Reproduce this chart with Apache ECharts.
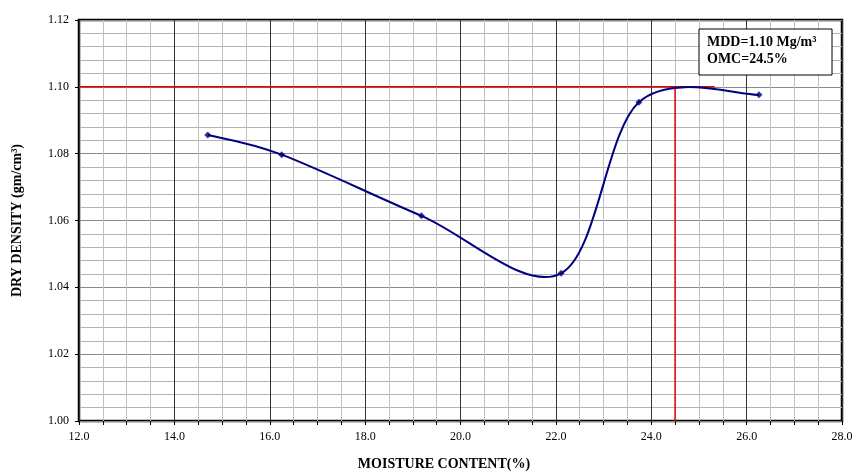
<!DOCTYPE html>
<html>
<head>
<meta charset="utf-8">
<script src="https://cdn.jsdelivr.net/npm/echarts@6/dist/echarts.min.js"></script>
<style>html,body{margin:0;padding:0;background:#fff}#c{width:856px;height:472px}</style>
</head>
<body>
<div id="c"></div>
<script>
// Data
var moisture = [14.7, 16.25, 19.18, 22.11, 23.74, 26.26];
var density  = [1.0856, 1.0797, 1.0614, 1.0442, 1.0954, 1.0976];
var mddX = [12.0, 25.33];
var mddY = [1.10, 1.10];
var omcX = [24.5, 24.5];
var omcY = [1.00, 1.10];
var xTicks = {min: 12, max: 28, step: 2};
var yTicks = {min: 1.00, max: 1.12, step: 0.02};
var xTitle = 'MOISTURE CONTENT(%)';
var yTitle = 'DRY DENSITY (gm/cm³)';
var noteLines = ['MDD=1.10 Mg/m³', 'OMC=24.5%'];

function zip(a, b) { return a.map(function (v, i) { return [v, b[i]]; }); }

var font = 'Liberation Serif, Times New Roman, serif';
var curveData = zip(moisture, density);

// Smoothed curve (Catmull-Rom style bezier) drawn in pixel space via the axes' scales
function renderCurve(params, api) {
  if (params.dataIndex !== 0) return null;
  var p = curveData.map(function (d) { return api.coord(d); });
  var n = p.length;
  var path = 'M' + p[0][0] + ' ' + p[0][1];
  for (var i = 0; i < n - 1; i++) {
    var p0 = p[Math.max(i - 1, 0)], p1 = p[i], p2 = p[i + 1], p3 = p[Math.min(i + 2, n - 1)];
    var c1x = p1[0] + (p2[0] - p0[0]) / 6, c1y = p1[1] + (p2[1] - p0[1]) / 6;
    var c2x = p2[0] - (p3[0] - p1[0]) / 6, c2y = p2[1] - (p3[1] - p1[1]) / 6;
    path += ' C' + c1x + ' ' + c1y + ' ' + c2x + ' ' + c2y + ' ' + p2[0] + ' ' + p2[1];
  }
  return {
    type: 'path',
    shape: {pathData: path},
    style: {fill: 'none', stroke: '#000080', lineWidth: 2}
  };
}

var chart = echarts.init(document.getElementById('c'));
chart.setOption({
  animation: false,
  backgroundColor: '#fff',
  grid: {left: 79, right: 14, top: 20, bottom: 51, show: true, borderColor: '#000', borderWidth: 2.5, backgroundColor: 'transparent'},
  xAxis: {
    type: 'value', min: xTicks.min, max: xTicks.max, interval: xTicks.step,
    axisLine: {show: false},
    axisTick: {show: true, length: 4, lineStyle: {color: '#000'}},
    minorTick: {show: true, splitNumber: 4, length: 4, lineStyle: {color: '#000'}},
    axisLabel: {formatter: function (v) { return v.toFixed(1); }, fontFamily: font, fontSize: 12, color: '#000', margin: 10},
    splitLine: {show: true, lineStyle: {color: '#333', width: 1}},
    minorSplitLine: {show: true, lineStyle: {color: '#c0c0c0', width: 1}}
  },
  yAxis: {
    type: 'value', min: yTicks.min, max: yTicks.max, interval: yTicks.step,
    name: yTitle, nameLocation: 'middle', nameGap: 55,
    nameTextStyle: {fontFamily: font, fontSize: 14, fontWeight: 'bold', color: '#000'},
    axisLine: {show: false},
    axisTick: {show: true, length: 4, lineStyle: {color: '#000'}},
    axisLabel: {formatter: function (v) { return v.toFixed(2); }, fontFamily: font, fontSize: 12, color: '#000', margin: 10},
    splitLine: {show: true, lineStyle: {color: '#888', width: 1}},
    minorTick: {show: false, splitNumber: 5},
    minorSplitLine: {show: true, lineStyle: {color: '#b4b4b4', width: 1}}
  },
  graphic: [
    {type: 'text', x: 444, y: 457, z: 100, style: {text: xTitle, font: 'bold 14px ' + font, fill: '#000', textAlign: 'center'}},
    {type: 'rect', x: 699, y: 29, z: 100, shape: {x: 0, y: 0, width: 133, height: 46}, style: {fill: '#fff', stroke: '#000', lineWidth: 1}},
    {type: 'text', x: 707, y: 34, z: 101, style: {text: noteLines.join('\n'), font: 'bold 14px ' + font, fill: '#000', lineHeight: 17}}
  ],
  series: [
    {type: 'line', data: zip(mddX, mddY), symbol: 'none', lineStyle: {color: '#e00000', width: 1.5}, z: 3},
    {type: 'line', data: zip(omcX, omcY), symbol: 'none', lineStyle: {color: '#e00000', width: 1.5}, z: 3},
    {type: 'custom', data: curveData, renderItem: renderCurve, clip: true, z: 4},
    {type: 'scatter', data: curveData, symbol: 'diamond', symbolSize: 7, itemStyle: {color: '#000080'}, z: 5}
  ]
});
</script>
</body>
</html>
